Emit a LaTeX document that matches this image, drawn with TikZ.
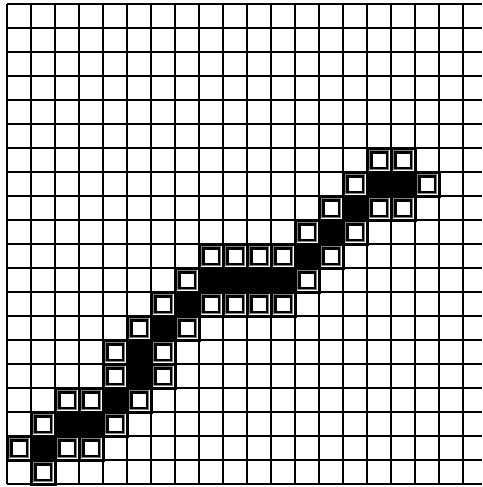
\documentclass[tikz,border=0pt]{standalone}
\begin{document}
\begin{tikzpicture}[x=1pt,y=-1pt,
  gridline/.style={line width=2.2pt},
  framebox/.style={line width=3pt},
  innergray/.style={draw=gray,line width=1.4pt},
  innerblack/.style={line width=2.6pt}]
\useasboundingbox (0,0) rectangle (482,487);
\fill[white] (0,0) rectangle (482,487);
% grid
\foreach \k in {0,...,19} \draw[gridline] ({7+24*\k},4) -- ({7+24*\k},484);
\foreach \k in {0,...,20} \draw[gridline] (7,{4+24*\k}) -- (482,{4+24*\k});
% black cells
\foreach \c/\r in {15/7,16/7,14/8,13/9,12/10,8/11,9/11,10/11,11/11,7/12,6/13,5/14,5/15,4/16,2/17,3/17,1/18}
  \fill[black] ({7+24*\c-1.5},{4+24*\r-1.5}) rectangle ++(27,27);
% boxed cells
\foreach \c/\r in {15/6,16/6,14/7,17/7,13/8,15/8,16/8,12/9,14/9,8/10,9/10,10/10,11/10,13/10,7/11,12/11,6/12,8/12,9/12,10/12,11/12,5/13,7/13,4/14,6/14,4/15,6/15,2/16,3/16,5/16,1/17,4/17,0/18,2/18,3/18,1/19}
{
  \draw[framebox] ({7+24*\c},{4+24*\r}) rectangle ++(24,24);
  \draw[innergray] ({7+24*\c+2.8},{4+24*\r+2.8}) rectangle ++(18.4,18.4);
  \draw[innerblack] ({7+24*\c+4.2},{4+24*\r+4.2}) rectangle ++(15.6,15.6);
}
\end{tikzpicture}
\end{document}
